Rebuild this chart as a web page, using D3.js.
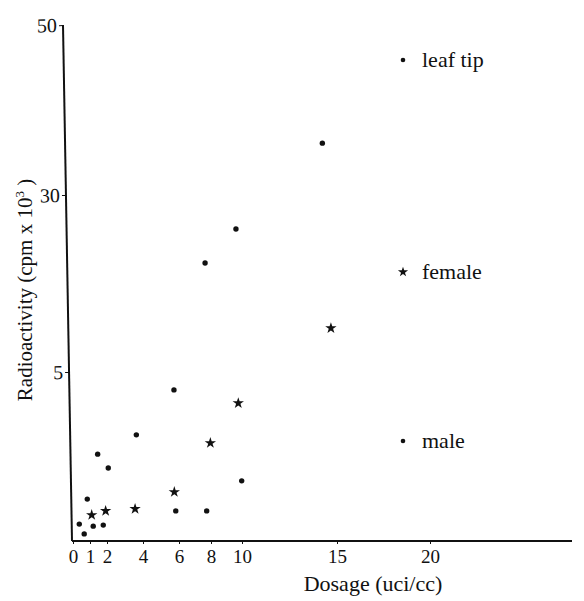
<!DOCTYPE html>
<html>
<head>
<meta charset="utf-8">
<script src="https://cdn.jsdelivr.net/npm/d3@7"></script>
<style>
  body { margin: 0; background: #fff; }
  svg text { font-family: "Liberation Serif", "DejaVu Serif", serif; fill: #111; }
</style>
</head>
<body>
<div id="chart"></div>
<script>
// Dữ liệu (liều lượng uci/cc, hoạt độ cpm x 10^3)
const xTicks = [0, 1, 2, 4, 6, 8, 10, 15, 20];
const yTicks = [5, 30, 50];

const leafX = [0.84, 1.45, 2.07, 3.63, 5.72, 7.63, 9.61, 14.23];
const leafY = [1.24, 2.57, 2.16, 3.14, 4.47, 20.4, 25.2, 36.1];

const femaleX = [1.1, 1.92, 3.56, 5.74, 7.96, 9.76, 14.68];
const femaleY = [0.77, 0.89, 0.95, 1.45, 2.9, 4.08, 11.2];

const maleX = [0.37, 0.66, 1.19, 1.78, 5.82, 7.73, 9.98];
const maleY = [0.5, 0.21, 0.44, 0.47, 0.89, 0.89, 1.78];

const legendNames = ["leaf tip", "female", "male"];

const width = 584, height = 601;

let svg = d3.select("#chart")
    .append("svg")
    .attr("width", width)
    .attr("height", height);

// Thang đo không đều như bản gốc
let x = d3.scaleLinear()
    .domain(xTicks)
    .range([73, 90, 107, 143, 179, 211, 242, 337, 430]);

let y = d3.scaleLinear()
    .domain([0, 5, 30, 50])
    .range([541, 372, 195, 25]);

// Trục X
let xAxis = svg.append("g")
    .attr("transform", `translate(0,${y(0)})`)
    .call(d3.axisBottom(x).tickValues(xTicks).tickSize(3).tickSizeOuter(0).tickFormat(d3.format("d")));
xAxis.select(".domain")
    .attr("d", `M72,0H572`)
    .style("stroke", "#111")
    .style("stroke-width", 2);
xAxis.selectAll(".tick line").style("stroke", "#111");
xAxis.selectAll(".tick text")
    .attr("y", 9)
    .style("font-size", "19px");

// Trục Y (hơi nghiêng như bản scan)
let yAxis = svg.append("g")
    .attr("transform", `translate(72,0) rotate(-1, 0, ${y(0)})`)
    .call(d3.axisLeft(y).tickValues(yTicks).tickSize(4).tickSizeOuter(0));
yAxis.select(".domain")
    .attr("d", `M0,${y(0)}V${y(50)}`)
    .style("stroke", "#111")
    .style("stroke-width", 2);
yAxis.selectAll(".tick line").style("stroke", "#111");
yAxis.selectAll(".tick text")
    .attr("x", -6)
    .style("font-size", "20px");

// Nhãn trục
svg.append("text")
    .attr("x", 373)
    .attr("y", 591)
    .attr("text-anchor", "middle")
    .style("font-size", "22px")
    .text("Dosage (uci/cc)");

let yLabel = svg.append("text")
    .attr("transform", "translate(32,290) rotate(-90)")
    .attr("text-anchor", "middle")
    .style("font-size", "21px");
yLabel.append("tspan").text("Radioactivity (cpm x 10");
yLabel.append("tspan").attr("dy", -8).style("font-size", "13px").text("3");
yLabel.append("tspan").attr("dy", 8).text(" )");

// Điểm dữ liệu
let star = d3.symbol().type(d3.symbolStar).size(40);

svg.selectAll(".leaf")
    .data(d3.zip(leafX, leafY))
    .enter()
    .append("circle")
    .attr("class", "leaf")
    .attr("cx", d => x(d[0]))
    .attr("cy", d => y(d[1]))
    .attr("r", 2.7)
    .attr("fill", "#111");

svg.selectAll(".male")
    .data(d3.zip(maleX, maleY))
    .enter()
    .append("circle")
    .attr("class", "male")
    .attr("cx", d => x(d[0]))
    .attr("cy", d => y(d[1]))
    .attr("r", 2.7)
    .attr("fill", "#111");

svg.selectAll(".female")
    .data(d3.zip(femaleX, femaleY))
    .enter()
    .append("path")
    .attr("class", "female")
    .attr("d", star)
    .attr("transform", d => `translate(${x(d[0])},${y(d[1])})`)
    .attr("fill", "#111");

// Chú thích
let legendY = [60, 272, 441];
let legend = svg.selectAll(".legend")
    .data(legendNames)
    .enter()
    .append("g")
    .attr("class", "legend")
    .attr("transform", (d, i) => `translate(403,${legendY[i]})`);

legend.each(function(d) {
    let g = d3.select(this);
    if (d === "female") {
        g.append("path").attr("d", d3.symbol().type(d3.symbolStar).size(32)).attr("fill", "#111");
    } else {
        g.append("circle").attr("r", 2.3).attr("fill", "#111");
    }
    g.append("text")
        .attr("x", 19)
        .attr("dy", "0.3em")
        .style("font-size", "22px")
        .text(d);
});
</script>
</body>
</html>
